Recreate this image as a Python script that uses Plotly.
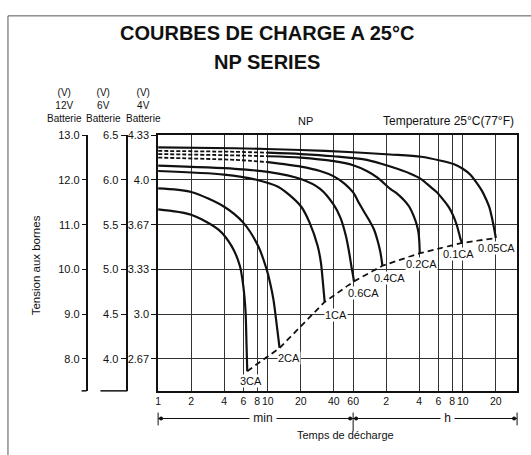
import math
import plotly.graph_objects as go

# ---------------- data (time in minutes, voltage for a 12 V battery) ----------------
rates = ["0.05CA", "0.1CA", "0.2CA", "0.4CA", "0.6CA", "1CA", "2CA", "3CA"]

t_005 = [1, 5, 20, 60, 130, 250, 380, 500, 600, 700, 800, 900, 985, 1050, 1100, 1150, 1185, 1200]
v_005 = [12.73, 12.71, 12.67, 12.62, 12.57, 12.52, 12.43, 12.35, 12.25, 12.12, 11.94, 11.75, 11.55, 11.38, 11.18, 10.95, 10.78, 10.70]

t_01 = [1, 5, 10, 20, 40, 80, 131, 200, 250, 303, 350, 400, 450, 495, 530, 555, 575, 590]
v_01 = [12.65, 12.63, 12.61, 12.58, 12.53, 12.45, 12.30, 12.14, 12.02, 11.85, 11.72, 11.55, 11.38, 11.18, 10.98, 10.80, 10.66, 10.59]

t_02 = [1, 5, 10, 20, 40, 60, 80, 100, 131, 150, 174, 195, 215, 228, 237, 241, 243]
v_02 = [12.58, 12.55, 12.53, 12.50, 12.42, 12.33, 12.20, 12.05, 11.80, 11.70, 11.55, 11.40, 11.18, 11.00, 10.81, 10.60, 10.36]

t_04 = [1, 5, 10, 20, 30, 40, 50, 60, 68, 75, 83, 93, 100, 106, 111]
v_04 = [12.50, 12.45, 12.40, 12.30, 12.20, 12.08, 11.92, 11.72, 11.48, 11.30, 11.12, 10.89, 10.65, 10.40, 10.08]

t_06 = [1, 5, 10, 20, 30, 40, 46, 51.5, 55, 58, 60, 61]
v_06 = [12.32, 12.25, 12.18, 12.02, 11.80, 11.44, 11.15, 10.75, 10.40, 10.05, 9.85, 9.73]

t_1 = [1, 4, 8, 12.4, 16, 20.2, 24, 28.5, 30.5, 31.6, 32.5, 33]
v_1 = [12.20, 12.12, 12.00, 11.85, 11.65, 11.40, 11.05, 10.52, 10.15, 9.78, 9.45, 9.27]

t_2 = [1, 2, 4, 6, 8.17, 9.7, 10.6, 11.3, 12.0, 12.5, 12.8]
v_2 = [11.81, 11.73, 11.40, 11.04, 10.52, 10.02, 9.65, 9.30, 8.80, 8.45, 8.24]

t_3 = [1, 2, 3.55, 4.68, 5.56, 5.97, 6.27, 6.4, 6.5]
v_3 = [11.34, 11.22, 10.89, 10.52, 10.08, 9.64, 9.05, 8.3, 7.72]

# end-of-discharge voltages (dashed line)
end_t = [6.5, 12.8, 33, 61, 111, 243, 590, 1200]
end_v = [7.72, 8.24, 9.27, 9.73, 10.08, 10.36, 10.59, 10.70]

# curve label positions
label_t = [1220, 553, 251, 129, 75, 41.9, 15.7, 7.1]
label_v = [10.48, 10.35, 10.11, 9.80, 9.47, 8.98, 8.01, 7.50]

# curves whose first portion is drawn dashed (index of last dashed point)
dashed_until = {"0.1CA": 2, "0.2CA": 2, "0.4CA": 2}

x_tickvals = [1, 2, 4, 6, 8, 10, 20, 40, 60, 120, 240, 360, 480, 600, 1200]
x_ticktext = ["1", "2", "4", "6", "8", "10", "20", "40", "60", "2", "4", "6", "8", "10", "20"]

y_tickvals = [8, 9, 10, 11, 12, 13]
ticks_12v = ["8.0", "9.0", "10.0", "11.0", "12.0", "13.0"]
ticks_6v = ["4.0", "4.5", "5.0", "5.5", "6.0", "6.5"]
ticks_4v = ["2.67", "3.0", "3.33", "3.67", "4.0", "4.33"]

# ---------------- layout geometry ----------------
W, H = 531, 455
PX_L, PX_R, PX_T, PX_B = 156, 517, 131, 390
X_RANGE = [0, 3.273]
Y_RANGE = [7.28, 13.0]
FONT = "Liberation Sans, Arial, sans-serif"

def px(v):
    return v / W

def py(v):
    return 1 - v / H

def x_paper(t):
    f = (math.log10(t) - X_RANGE[0]) / (X_RANGE[1] - X_RANGE[0])
    return px(PX_L + f * (PX_R - PX_L))

curves = {
    "0.05CA": (t_005, v_005), "0.1CA": (t_01, v_01), "0.2CA": (t_02, v_02),
    "0.4CA": (t_04, v_04), "0.6CA": (t_06, v_06), "1CA": (t_1, v_1),
    "2CA": (t_2, v_2), "3CA": (t_3, v_3),
}

fig = go.Figure()

for name in rates:
    t, v = curves[name]
    k = dashed_until.get(name)
    if k is not None:
        fig.add_trace(go.Scatter(x=t[:k + 1], y=v[:k + 1], mode="lines",
                                 line=dict(color="#111", width=1.8, dash="4px,2px", shape="spline", smoothing=0.8),
                                 showlegend=False, hoverinfo="skip"))
        t, v = t[k:], v[k:]
    fig.add_trace(go.Scatter(x=t, y=v, mode="lines",
                             line=dict(color="#111", width=2.2, shape="spline", smoothing=0.8),
                             showlegend=False, hoverinfo="skip"))

fig.add_trace(go.Scatter(x=end_t, y=end_v, mode="lines",
                         line=dict(color="#111", width=1.8, dash="6px,4px"),
                         showlegend=False, hoverinfo="skip"))

# invisible traces to activate the extra voltage axes
for ya in ["y2", "y3"]:
    fig.add_trace(go.Scatter(x=[1, 1], y=Y_RANGE, yaxis=ya, mode="lines",
                             line=dict(color="rgba(0,0,0,0)", width=0),
                             showlegend=False, hoverinfo="skip"))

ann = []
for name, lt, lv in zip(rates, label_t, label_v):
    ann.append(dict(x=math.log10(lt), y=lv, xref="x", yref="y", text=name, showarrow=False,
                    font=dict(size=11, color="#111", family=FONT), bgcolor="white", borderpad=0))

def text(x, y, s, size=10, bold=False, xanchor="center", angle=0):
    return dict(x=px(x), y=py(y), xref="paper", yref="paper", text=("<b>%s</b>" % s) if bold else s,
                showarrow=False, xanchor=xanchor, yanchor="middle", textangle=angle,
                font=dict(size=size, color="#111", family=FONT))

ann += [
    text(265, 27, "COURBES DE CHARGE A 25°C", 20, True),
    text(265, 57, "NP SERIES", 20, True),
    text(62, 101, "(V)<br>12V<br>Batterie", 10),
    text(101, 101, "(V)<br>6V<br>Batterie", 10),
    text(141, 101, "(V)<br>4V<br>Batterie", 10),
    text(304, 117, "NP", 11),
    text(516, 117, "Temperature 25°C(77°F)", 12, xanchor="right"),
    text(33, 263, "Tension aux bornes", 11.5, angle=-90),
    text(344, 435, "Temps de décharge", 11),
]
for s, tx in [("min", 9.1), ("h", 435)]:
    a = text(0, 418, " %s " % s, 12)
    a["x"] = x_paper(tx)
    a["bgcolor"] = "white"
    a["borderpad"] = 0
    ann.append(a)

shapes = []
# outer frame
shapes.append(dict(type="rect", xref="paper", yref="paper", x0=px(5), x1=px(545), y0=py(10), y1=py(470),
                   line=dict(color="#555", width=1)))
# bottom stubs of the battery axes
shapes.append(dict(type="line", xref="paper", yref="paper", x0=px(79), x1=px(84), y0=py(PX_B), y1=py(PX_B),
                   line=dict(color="#111", width=1.5)))
shapes.append(dict(type="line", xref="paper", yref="paper", x0=px(98), x1=px(125), y0=py(PX_B), y1=py(PX_B),
                   line=dict(color="#111", width=1.5)))
# min / h bracket
xa, xm, xb = x_paper(1), x_paper(60), px(PX_R)
shapes.append(dict(type="line", xref="paper", yref="paper", x0=xa, x1=xb, y0=py(418), y1=py(418),
                   line=dict(color="#111", width=1)))
for xx, y0, y1 in [(xa, 412, 425), (xm, 412, 431), (xb, 412, 425)]:
    shapes.append(dict(type="line", xref="paper", yref="paper", x0=xx, x1=xx, y0=py(y0), y1=py(y1),
                       line=dict(color="#111", width=1)))
for xx in [xa + px(3), xm - px(3), xm + px(3), xb - px(3)]:
    shapes.append(dict(type="circle", xref="paper", yref="paper", x0=xx - px(2), x1=xx + px(2),
                       y0=py(416), y1=py(420), fillcolor="#111", line=dict(width=0)))

axis_font = dict(size=11, color="#111", family=FONT)
fig.update_layout(
    width=W, height=H,
    margin=dict(l=0, r=0, t=0, b=0),
    paper_bgcolor="white", plot_bgcolor="white",
    showlegend=False,
    xaxis=dict(type="log", range=X_RANGE, domain=[px(PX_L), px(PX_R)],
               tickvals=x_tickvals, ticktext=x_ticktext, tickangle=0,
               tickfont=dict(size=10.5, color="#111", family=FONT),
               showgrid=True, gridcolor="#333", gridwidth=1.2,
               showline=True, linecolor="#111", linewidth=1.6, mirror=True,
               ticks="", zeroline=False),
    yaxis=dict(range=Y_RANGE, domain=[py(PX_B), py(PX_T)],
               tickvals=y_tickvals, ticktext=ticks_4v, tickfont=axis_font,
               showgrid=True, gridcolor="#333", gridwidth=1.2,
               showline=True, linecolor="#111", linewidth=1.6, mirror=True,
               ticks="outside", ticklen=5, tickcolor="#111", tickwidth=1.3, zeroline=False),
    yaxis2=dict(range=Y_RANGE, overlaying="y", anchor="free", position=px(84), side="left",
                tickvals=y_tickvals, ticktext=ticks_12v, tickfont=axis_font,
                showgrid=False, showline=True, linecolor="#111", linewidth=1.5,
                ticks="outside", ticklen=4, tickcolor="#111", tickwidth=1.3, zeroline=False),
    yaxis3=dict(range=Y_RANGE, overlaying="y", anchor="free", position=px(125), side="left",
                tickvals=y_tickvals, ticktext=ticks_6v, tickfont=axis_font,
                showgrid=False, showline=True, linecolor="#111", linewidth=1.5,
                ticks="outside", ticklen=6, tickcolor="#111", tickwidth=1.3, zeroline=False),
    annotations=ann,
    shapes=shapes,
)

fig.write_html("out.html", config={"displayModeBar": False},
               post_script="document.body.style.margin='0px';")
